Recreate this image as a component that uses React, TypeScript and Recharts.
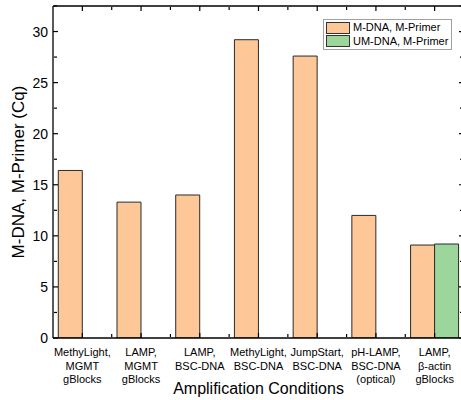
import React from 'react';
import { BarChart, Bar, XAxis, YAxis, Legend } from 'recharts';

const categoryLines: string[][] = [
  ['MethyLight,', 'MGMT', 'gBlocks'],
  ['LAMP,', 'MGMT', 'gBlocks'],
  ['LAMP,', 'BSC-DNA'],
  ['MethyLight,', 'BSC-DNA'],
  ['JumpStart,', 'BSC-DNA'],
  ['pH-LAMP,', 'BSC-DNA', '(optical)'],
  ['LAMP,', 'β-actin', 'gBlocks'],
];
const mDnaMPrimer: (number | null)[] = [16.4, 13.3, 14.0, 29.2, 27.6, 12.0, 9.1];
const umDnaMPrimer: (number | null)[] = [null, null, null, null, null, null, 9.2];
const seriesNames = ['M-DNA, M-Primer', 'UM-DNA, M-Primer'];
const seriesColors = ['#FDC797', '#9DD69B'];
const yTicks = [0, 5, 10, 15, 20, 25, 30];
const yMinorTicks = [2.5, 7.5, 12.5, 17.5, 22.5, 27.5, 32.5];
const yDomain: [number, number] = [0, 32.5];
const xMinorTicks = [1, 2, 3, 4, 5, 6];
const yTitle = 'M-DNA, M-Primer (Cq)';
const xTitle = 'Amplification Conditions';

const data = categoryLines.map((lines, i) => ({
  name: lines.join('\n'),
  idx: i + 0.5,
  m: mDnaMPrimer[i],
  um: umDnaMPrimer[i],
}));

const FONT = '"Liberation Sans", Arial, sans-serif';
const axisStroke = { stroke: '#000', strokeWidth: 1.3 };
const tickStroke = { stroke: '#000', strokeWidth: 1.2 };

const NoLabel = () => <g />;

const XTick = (props: any) => {
  const { x, y, payload } = props;
  const lines = String(payload.value).split('\n');
  return (
    <text x={x} y={y} textAnchor="middle" fontFamily={FONT} fontSize={11} fill="#000">
      {lines.map((l, i) => (
        <tspan key={i} x={x} dy={i === 0 ? 18 : 13.5}>
          {l}
        </tspan>
      ))}
    </text>
  );
};

const YTitle = (props: any) => {
  const vb = props.viewBox || {};
  const cx = vb.x + 24;
  const cy = vb.y + vb.height / 2;
  return (
    <text
      x={cx}
      y={cy}
      transform={`rotate(-90, ${cx}, ${cy})`}
      textAnchor="middle"
      fontFamily={FONT}
      fontSize={17}
      fill="#000"
    >
      {yTitle}
    </text>
  );
};

const LegendBox = () => (
  <div
    style={{
      border: '1px solid #a0a0a0',
      background: '#fff',
      padding: '1px 1px 1px 2px',
      fontFamily: FONT,
      fontSize: 11,
      color: '#000',
      lineHeight: '13px',
      width: 124,
    }}
  >
    {seriesNames.map((n, i) => (
      <div key={n} style={{ display: 'flex', alignItems: 'center', height: 13.5 }}>
        <div
          style={{
            width: 24,
            height: 12,
            background: seriesColors[i],
            border: '1px solid #333',
            boxSizing: 'border-box',
            marginRight: 3,
          }}
        />
        <span>{n}</span>
      </div>
    ))}
  </div>
);

export default function App() {
  return (
    <div style={{ width: 461, height: 400, overflow: 'hidden', position: 'relative' }}>
      <style>{'body{margin:0;overflow:hidden;}'}</style>
      <BarChart
        width={470}
        height={400}
        data={data}
        margin={{ top: 6, right: 6, left: 0, bottom: 0 }}
        barCategoryGap="9%"
        barGap={0}
      >
        <XAxis
          xAxisId="x"
          dataKey="name"
          height={62}
          tick={<XTick />}
          tickLine={false}
          tickSize={0}
          tickMargin={0}
          axisLine={axisStroke}
          interval={0}
          label={{ value: xTitle, position: 'insideBottom', offset: 6, fontSize: 16, fontFamily: FONT, fill: '#000' }}
        />
        <YAxis
          yAxisId="y"
          width={53}
          domain={yDomain}
          ticks={yTicks}
          allowDataOverflow
          interval={0}
          tickLine={false}
          tickSize={0}
          tickMargin={5}
          axisLine={axisStroke}
          tick={{ fontSize: 14, fontFamily: FONT, fill: '#000' }}
          label={<YTitle />}
        />
        <XAxis xAxisId="xb" dataKey="name" mirror height={1} tick={<NoLabel />} tickSize={5} tickLine={tickStroke} axisLine={false} interval={0} />
        <XAxis xAxisId="xbm" type="number" dataKey="idx" domain={[0, 7]} ticks={xMinorTicks} allowDataOverflow mirror height={1} tick={<NoLabel />} tickSize={3} tickLine={tickStroke} axisLine={false} interval={0} />
        <XAxis xAxisId="xt" dataKey="name" orientation="top" mirror height={1} tick={<NoLabel />} tickSize={5} tickLine={tickStroke} axisLine={axisStroke} interval={0} />
        <XAxis xAxisId="xtm" type="number" dataKey="idx" domain={[0, 7]} ticks={xMinorTicks} allowDataOverflow orientation="top" mirror height={1} tick={<NoLabel />} tickSize={3} tickLine={tickStroke} axisLine={false} interval={0} />
        <YAxis yAxisId="yl" domain={yDomain} ticks={yTicks} allowDataOverflow mirror width={1} tick={<NoLabel />} tickSize={5} tickLine={tickStroke} axisLine={false} interval={0} />
        <YAxis yAxisId="ylm" domain={yDomain} ticks={yMinorTicks} allowDataOverflow mirror width={1} tick={<NoLabel />} tickSize={3} tickLine={tickStroke} axisLine={false} interval={0} />
        <YAxis yAxisId="yr" orientation="right" domain={yDomain} ticks={yTicks} allowDataOverflow mirror width={1} tick={<NoLabel />} tickSize={5} tickLine={tickStroke} axisLine={axisStroke} interval={0} />
        <YAxis yAxisId="yrm" orientation="right" domain={yDomain} ticks={yMinorTicks} allowDataOverflow mirror width={1} tick={<NoLabel />} tickSize={3} tickLine={tickStroke} axisLine={false} interval={0} />
        <Bar xAxisId="x" yAxisId="y" dataKey="m" name={seriesNames[0]} fill={seriesColors[0]} stroke="#2a2a2a" strokeWidth={1} isAnimationActive={false} />
        <Bar xAxisId="x" yAxisId="y" dataKey="um" name={seriesNames[1]} fill={seriesColors[1]} stroke="#2a2a2a" strokeWidth={1} isAnimationActive={false} />
        <Legend
          layout="vertical"
          align="center"
          verticalAlign="middle"
          content={<LegendBox />}
          wrapperStyle={{ position: 'absolute', left: 323, top: 19, width: 'auto', height: 'auto' }}
        />
      </BarChart>
    </div>
  );
}
